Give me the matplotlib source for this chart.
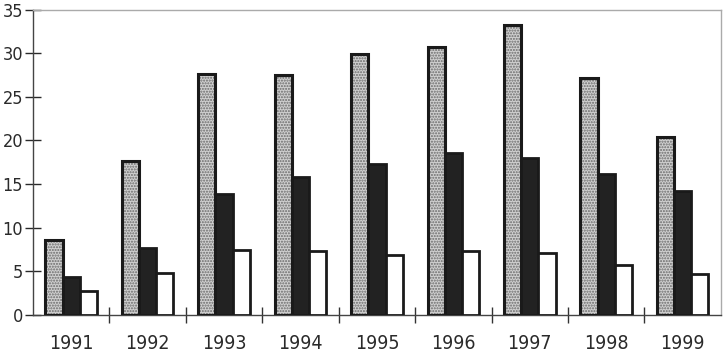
import numpy as np
import matplotlib.pyplot as plt

plt.rcParams['font.family'] = ['DejaVu Sans']
plt.rcParams['font.stretch'] = 'condensed'

# values
years = ['1991', '1992', '1993', '1994', '1995', '1996', '1997', '1998', '1999']
dotted = [8.6, 17.6, 27.6, 27.5, 29.9, 30.7, 33.2, 27.2, 20.4]
black = [4.4, 7.7, 13.9, 15.8, 17.3, 18.6, 18.0, 16.2, 14.2]
white = [2.75, 4.8, 7.5, 7.3, 6.9, 7.3, 7.1, 5.7, 4.7]

fig = plt.figure(figsize=(7.23, 3.55), dpi=100)
ax = fig.add_axes([0.0456, 0.1127, 0.9515, 0.8603])

x = np.arange(len(years))
w = 0.225

# dotted bars: fill + dot hatch, then black outline on top
ax.bar(x - w, dotted, w, color='#d0d0d0', edgecolor='#6a6a6a', hatch='......', linewidth=0, zorder=2)
ax.bar(x - w, dotted, w, fill=False, edgecolor='#1a1a1a', linewidth=2.2, zorder=3)
ax.bar(x, black, w, color='#222222', edgecolor='#1a1a1a', linewidth=2, zorder=3)
ax.bar(x + w, white, w, color='white', edgecolor='#1a1a1a', linewidth=2, zorder=3)

ax.set_xlim(-0.5, len(years) - 0.5)
ax.set_ylim(0, 35)
ax.set_yticks(range(0, 36, 5))
ax.set_xticks(x)
ax.set_xticklabels(years)
ax.set_xticks(x[:-1] + 0.5, minor=True)

ax.tick_params(axis='y', direction='inout', length=12, width=1, labelsize=13, pad=1, colors='#2a2a2a')
ax.tick_params(axis='x', which='major', length=0, labelsize=14, pad=14, colors='#2a2a2a')
ax.tick_params(axis='x', which='minor', direction='inout', length=12, width=1, color='#333333')

for s in ['left', 'bottom']:
    ax.spines[s].set_color('#444444')
    ax.spines[s].set_linewidth(1)
for s in ['top', 'right']:
    ax.spines[s].set_color('#aaaaaa')
    ax.spines[s].set_linewidth(1)

fig.savefig('out.png', dpi=100)
